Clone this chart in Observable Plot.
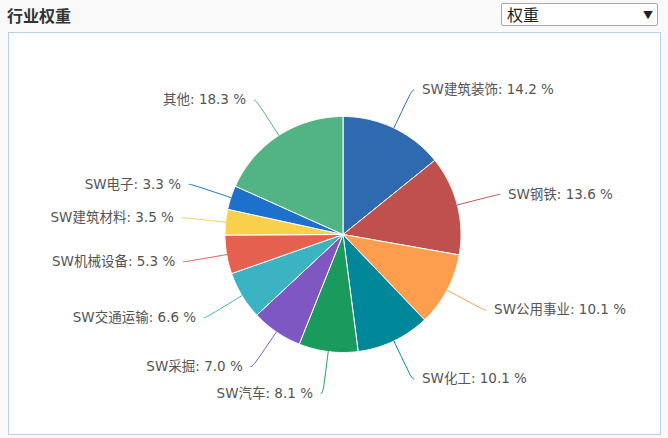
<!DOCTYPE html>
<html><head><meta charset="utf-8">
<script src="https://cdn.jsdelivr.net/npm/d3@7"></script>
<script src="https://cdn.jsdelivr.net/npm/@observablehq/plot@0.6"></script>
<style>
html,body{margin:0;padding:0}
body{background:#f9f9f9;font-family:"Noto Sans CJK SC","Noto Sans",sans-serif;width:668px;height:438px;position:relative;overflow:hidden}
#title{position:absolute;left:7px;top:5px;font-size:16px;font-weight:bold;color:#333;line-height:20px}
#select{position:absolute;left:501px;top:3px;width:157px;height:23px;box-sizing:border-box;border:1px solid #a9a9a9;border-radius:2px;background:#fff;font-size:16px;color:#222;line-height:21px;padding-left:5px}
#select span{position:absolute;right:4px;top:0;font-size:10px}
#frame{position:absolute;left:8px;top:32px;width:651px;height:401px;border:1px solid #b9cfec;background:#fff}
#frame svg{display:block}
</style></head>
<body>
<div id="title">行业权重</div>
<div id="select">权重<span>▼</span></div>
<div id="frame"></div>
<script>
const categories = ["SW建筑装饰","SW钢铁","SW公用事业","SW化工","SW汽车","SW采掘","SW交通运输","SW机械设备","SW建筑材料","SW电子","其他"];
const weights = [14.2,13.6,10.1,10.1,8.1,7.0,6.6,5.3,3.5,3.3,18.3];
const colors = ["#2f69b0","#c0504d","#fd9e4f","#00889a","#1a9b5d","#7e57c2","#3bb3c3","#e5604f","#f9d04b","#1e70cd","#52b385"];

const W = 651, H = 401, CX = 333.5, CY = 201, R = 118;
const LR = 160 / R, PAD = 10 / R, BR = 1.18;

const arcs = d3.pie().sort(null).value(d => d.w)(categories.map((c, i) => ({c, w: weights[i]})));

const slicePts = [];
const connPts = [];
const labels = [];
arcs.forEach(a => {
  const c = a.data.c;
  slicePts.push({c, x: 0, y: 0});
  const n = Math.max(2, Math.ceil((a.endAngle - a.startAngle) / 0.01));
  for (let k = 0; k <= n; k++) {
    const t = a.startAngle + (a.endAngle - a.startAngle) * k / n;
    slicePts.push({c, x: Math.sin(t), y: Math.cos(t)});
  }
  slicePts.push({c, x: 0, y: 0});
  const m = (a.startAngle + a.endAngle) / 2;
  const s = Math.sin(m) >= 0 ? 1 : -1;
  const ly = LR * Math.cos(m);
  const lx = LR * Math.sin(m);
  connPts.push({c, x: Math.sin(m), y: Math.cos(m)});
  connPts.push({c, x: BR * Math.sin(m), y: BR * Math.cos(m)});
  connPts.push({c, x: lx, y: ly});
  connPts.push({c, x: lx + s * 2 / R, y: ly});
  labels.push({c, side: s, x: lx + s * PAD, y: ly, text: `${c}: ${a.data.w.toFixed(1)} %`});
});

const labelFont = '"DejaVu Sans","Noto Sans CJK SC",sans-serif';
const chart = Plot.plot({
  width: W, height: H, margin: 0,
  x: {domain: [-CX / R, (W - CX) / R], range: [0, W], axis: null},
  y: {domain: [-(H - CY) / R, CY / R], range: [H, 0], axis: null},
  color: {type: "ordinal", domain: categories, range: colors},
  style: {background: "transparent", fontFamily: labelFont, fontSize: "13.5px", overflow: "visible"},
  marks: [
    Plot.line(slicePts, {x: "x", y: "y", z: "c", fill: "c", stroke: "white", strokeWidth: 1, curve: "linear"}),
    Plot.line(connPts, {x: "x", y: "y", z: "c", stroke: "c", strokeWidth: 1, curve: "basis"}),
    Plot.text(labels.filter(d => d.side > 0), {x: "x", y: "y", text: "text", textAnchor: "start", fill: "#555"}),
    Plot.text(labels.filter(d => d.side < 0), {x: "x", y: "y", text: "text", textAnchor: "end", fill: "#555"})
  ]
});
document.getElementById("frame").appendChild(chart);
</script>
</body></html>
